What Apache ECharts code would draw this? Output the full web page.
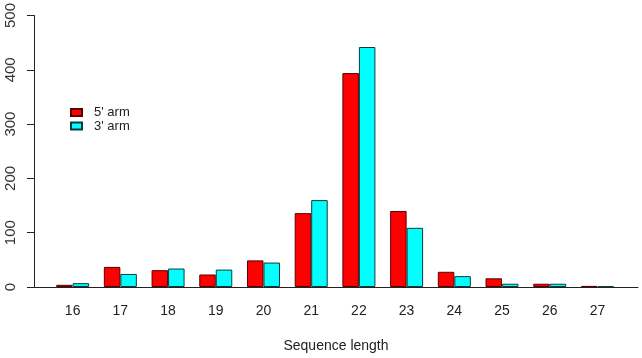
<!DOCTYPE html>
<html>
<head>
<meta charset="utf-8">
<script src="https://cdn.jsdelivr.net/npm/echarts@6/dist/echarts.min.js"></script>
<style>html,body{margin:0;padding:0;background:#fff;}#c{width:642px;height:358px;}</style>
</head>
<body>
<div id="c"></div>
<script>
var categories = [16, 17, 18, 19, 20, 21, 22, 23, 24, 25, 26, 27];
var arm5 = [4, 37, 31, 23, 49, 136, 394, 140, 28, 16, 6, 2];
var arm3 = [7, 24, 34, 32, 45, 160, 442, 109, 20, 6, 6, 1];
var yTicks = [0, 100, 200, 300, 400, 500];

function pairs(vals) { return categories.map(function (c, i) { return [c, vals[i]]; }); }

var chart = echarts.init(document.getElementById('c'), null, { renderer: 'canvas' });
var font = 'Liberation Sans, Arial, sans-serif';
chart.setOption({
  animation: false,
  backgroundColor: '#fff',
  grid: { left: 34, right: 4, top: 15, bottom: 71, containLabel: false },
  legend: {
    orient: 'vertical', left: 70, top: 106, padding: 0,
    itemWidth: 11, itemHeight: 7, itemGap: 0.5, icon: 'rect',
    textStyle: { fontFamily: font, fontSize: 13, color: '#222', lineHeight: 11, padding: [0, 0, 0, 7] },
    data: ["5' arm", "3' arm"]
  },
  xAxis: {
    type: 'value', min: 15.19, max: 27.85,
    axisLine: { show: true, onZero: true, lineStyle: { color: '#222', width: 1 } },
    axisTick: { show: false },
    splitLine: { show: false },
    axisLabel: { customValues: categories, margin: 17, fontFamily: font, fontSize: 14, color: '#222' },
    name: 'Sequence length', nameLocation: 'middle', nameGap: 52,
    nameTextStyle: { fontFamily: font, fontSize: 14, color: '#222' }
  },
  yAxis: {
    type: 'value', min: 0, max: 500, interval: 100,
    axisLine: { show: true, lineStyle: { color: '#222', width: 1 } },
    axisTick: { show: true, length: 7, lineStyle: { color: '#222' } },
    splitLine: { show: false },
    axisLabel: { customValues: yTicks, rotate: 90, margin: 16, fontFamily: font, fontSize: 15, color: '#333' }
  },
  series: [
    { name: "5' arm", type: 'bar', data: pairs(arm5), barWidth: 16.5, barGap: '0%',
      itemStyle: { color: '#ff0000', borderColor: '#5a0000', borderWidth: 1 } },
    { name: "3' arm", type: 'bar', data: pairs(arm3), barWidth: 16.5, barGap: '0%',
      itemStyle: { color: '#00ffff', borderColor: '#0a3c3c', borderWidth: 1 } }
  ]
});
</script>
</body>
</html>
